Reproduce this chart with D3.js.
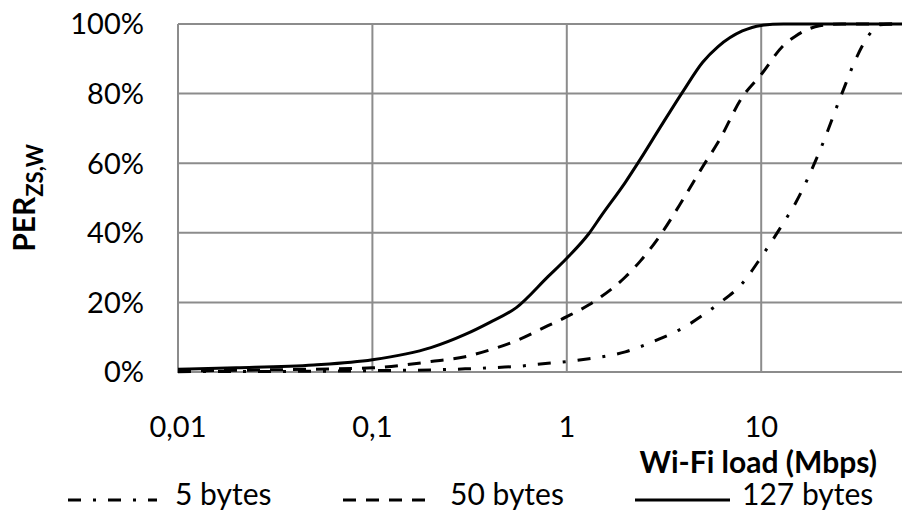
<!DOCTYPE html>
<html>
<head>
<meta charset="utf-8">
<script src="https://cdn.jsdelivr.net/npm/d3@7"></script>
<style>
  html, body { margin: 0; padding: 0; background: #fff; }
  text { font-family: Lato, "Open Sans", sans-serif; fill: #000; }
</style>
</head>
<body>
<svg id="chart" width="902" height="519"></svg>
<script>
// Wi-Fi load (Mbps), shared by all three series
var loads = [0.01, 0.02, 0.05, 0.1, 0.2, 0.3, 0.4, 0.55, 0.8, 1, 1.3, 1.5, 2, 2.4, 3, 4, 5, 6, 8, 10, 13, 15, 20, 26, 31, 36, 41, 50, 60];
// PER (%) per payload size
var per5 = [0.1, 0.15, 0.2, 0.4, 0.6, 0.9, 1.2, 1.6, 2.5, 3.0, 3.8, 4.3, 5.8, 7.3, 9.5, 12.8, 16.3, 19.5, 25.5, 33, 42.8, 48.5, 63.5, 80, 90.5, 97, 99.8, 100, 100];
var per50 = [0.3, 0.5, 0.8, 1.2, 3.0, 4.4, 6.3, 9.0, 13.3, 15.9, 19.3, 21.6, 27.3, 32, 39, 50, 59, 66, 79, 85.5, 93.8, 96.5, 99.5, 100, 100, 100, 100, 100, 100];
var per127 = [0.8, 1.2, 2.0, 3.5, 7.0, 10.8, 14.2, 18.5, 27.4, 32.7, 39.8, 44.8, 54.5, 61.3, 70, 81, 89, 93.5, 98, 99.6, 100, 100, 100, 100, 100, 100, 100, 100, 100];

var xTicks = [0.01, 0.1, 1, 10];
var xTickLabels = ["0,01", "0,1", "1", "10"];
var yTicks = [0, 20, 40, 60, 80, 100];

var series = [
  { name: "5 bytes", values: per5, dash: "13,12,3,12" },
  { name: "50 bytes", values: per50, dash: "13,10" },
  { name: "127 bytes", values: per127, dash: null }
];

var svg = d3.select("#chart");

var plotLeft = 178, plotTop = 24, plotBottom = 372, decade = 194.4;
var xMin = 0.01, xMax = 60;

var x = d3.scaleLog()
  .domain([xMin, xMax])
  .range([plotLeft, plotLeft + decade * Math.log10(xMax / xMin)]);
var y = d3.scaleLinear()
  .domain([0, 100])
  .range([plotBottom, plotTop]);

var gridColor = "#8c8c8c";

// horizontal gridlines
svg.append("g").selectAll("line")
  .data(yTicks)
  .enter()
  .append("line")
  .attr("x1", x(xMin))
  .attr("x2", x(xMax))
  .attr("y1", function (d) { return y(d); })
  .attr("y2", function (d) { return y(d); })
  .style("stroke", gridColor)
  .style("stroke-width", 2);

// vertical gridlines
svg.append("g").selectAll("line")
  .data(xTicks)
  .enter()
  .append("line")
  .attr("x1", function (d) { return x(d); })
  .attr("x2", function (d) { return x(d); })
  .attr("y1", y(0) + 1)
  .attr("y2", y(100))
  .style("stroke", gridColor)
  .style("stroke-width", 2);

// y tick labels
svg.append("g").selectAll("text")
  .data(yTicks)
  .enter()
  .append("text")
  .attr("x", 144)
  .attr("y", function (d) { return y(d); })
  .attr("dy", "0.36em")
  .attr("text-anchor", "end")
  .style("font-size", "29px")
  .text(function (d) { return d + "%"; });

// x tick labels
svg.append("g").selectAll("text")
  .data(xTicks)
  .enter()
  .append("text")
  .attr("x", function (d) { return x(d); })
  .attr("y", 437)
  .attr("text-anchor", "middle")
  .style("font-size", "29px")
  .text(function (d, i) { return xTickLabels[i]; });

// axis titles
svg.append("text")
  .attr("x", 877)
  .attr("y", 473)
  .attr("text-anchor", "end")
  .style("font-size", "30px")
  .style("font-weight", "bold")
  .text("Wi-Fi load (Mbps)");

var yTitle = svg.append("text")
  .attr("transform", "translate(35,198) rotate(-90)")
  .attr("text-anchor", "middle")
  .style("font-size", "30px")
  .style("font-weight", "bold");
yTitle.append("tspan").text("PER");
yTitle.append("tspan")
  .attr("dy", 8)
  .style("font-size", "22px")
  .text("ZS,W");

// curves
var line = d3.line()
  .x(function (d) { return x(d[0]); })
  .y(function (d) { return y(d[1]); })
  .curve(d3.curveMonotoneX);

svg.append("g").selectAll("path")
  .data(series)
  .enter()
  .append("path")
  .attr("d", function (s) { return line(loads.map(function (l, i) { return [l, s.values[i]]; })); })
  .style("fill", "none")
  .style("stroke", "#000")
  .style("stroke-width", 3)
  .style("stroke-dasharray", function (s) { return s.dash; });

// legend
var legendX = [68, 343, 635];
var legend = svg.append("g").selectAll("g")
  .data(series)
  .enter()
  .append("g")
  .attr("transform", function (d, i) { return "translate(" + legendX[i] + ",0)"; });
legend.append("line")
  .attr("x1", 0)
  .attr("x2", function (d, i) { return i === 2 ? 95 : 89; })
  .attr("y1", 500)
  .attr("y2", 500)
  .style("stroke", "#000")
  .style("stroke-width", 3)
  .style("stroke-dasharray", function (s) { return s.dash; });
legend.append("text")
  .attr("x", 107)
  .attr("y", 505)
  .style("font-size", "30px")
  .text(function (d) { return d.name; });
</script>
</body>
</html>
